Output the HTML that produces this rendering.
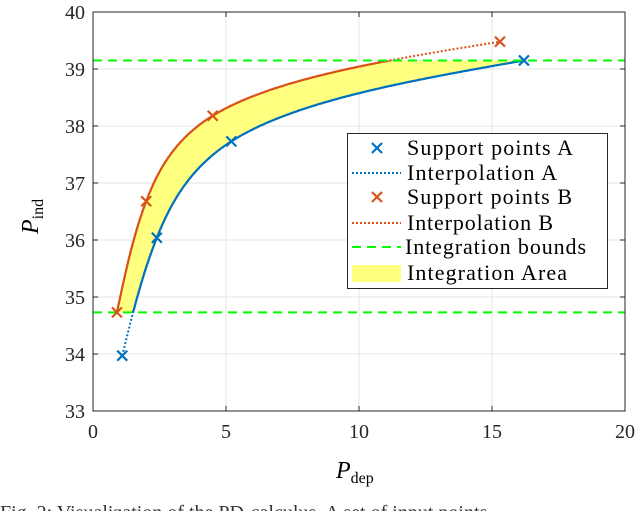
<!DOCTYPE html>
<html><head><meta charset="utf-8"><style>
body{margin:0;background:#fff;width:640px;height:511px;overflow:hidden;font-family:"Liberation Serif",serif}
svg text{font-family:"Liberation Serif",serif}
</style></head><body>
<svg id="c" width="640" height="511"></svg>
<script>
const xTicks=[0,5,10,15,20];
const yTicks=[33,34,35,36,37,38,39,40];
const ptsAx=[1.1,2.4,5.2,16.2];
const ptsAy=[33.97,36.04,37.73,39.15];
const ptsBx=[0.9,2.0,4.5,15.3];
const ptsBy=[34.73,36.68,38.18,39.48];
const bounds=[34.73,39.15];
const NS="http://www.w3.org/2000/svg";
const svg=document.getElementById('c');
const X0=93,X1=625,Y0=411,Y1=12;
const sx=v=>X0+(v-0)/(20-0)*(X1-X0);
const sy=v=>Y0-(v-33)/(40-33)*(Y0-Y1);
function el(t,a,p){const e=document.createElementNS(NS,t);for(const k in a)e.setAttribute(k,a[k]);(p||svg).appendChild(e);return e;}
function nat(ts,ys){const n=ts.length,h=[];for(let i=0;i<n-1;i++)h.push(ts[i+1]-ts[i]);
 const a=new Array(n).fill(0),b=new Array(n).fill(1),c=new Array(n).fill(0),r=new Array(n).fill(0);
 for(let i=1;i<n-1;i++){a[i]=h[i-1];b[i]=2*(h[i-1]+h[i]);c[i]=h[i];r[i]=6*((ys[i+1]-ys[i])/h[i]-(ys[i]-ys[i-1])/h[i-1]);}
 for(let i=1;i<n;i++){const w=a[i]/b[i-1];b[i]-=w*c[i-1];r[i]-=w*r[i-1];}
 const M=new Array(n);M[n-1]=r[n-1]/b[n-1];for(let i=n-2;i>=0;i--)M[i]=(r[i]-c[i]*M[i+1])/b[i];
 return t=>{let i=0;while(i<n-2&&t>ts[i+1])i++;const A=(ts[i+1]-t)/h[i],B=(t-ts[i])/h[i];
 return A*ys[i]+B*ys[i+1]+((A*A*A-A)*M[i]+(B*B*B-B)*M[i+1])*h[i]*h[i]/6;};}
// parametric centripetal spline in screen space
function pcurve(xs,ys){const px=xs.map(sx),py=ys.map(sy),ts=[0];
 for(let i=1;i<px.length;i++)ts.push(ts[i-1]+Math.sqrt(Math.hypot(px[i]-px[i-1],py[i]-py[i-1])));
 const fx=nat(ts,px),fy=nat(ts,py),T=ts[ts.length-1],r=[];
 for(let k=0;k<=400;k++){const t=T*k/400;r.push([fx(t),fy(t)]);}return r;}
const P=r=>r.map(p=>p[0].toFixed(1)+','+p[1].toFixed(1)).join(' ');
const defs=el('defs',{});
const cp=el('clipPath',{id:'band'},defs);
el('rect',{x:0,y:sy(bounds[1]),width:640,height:sy(bounds[0])-sy(bounds[1])},cp);
xTicks.forEach(v=>{const g=el('line',{x1:sx(v),x2:sx(v),y1:Y1,y2:Y0,stroke:'#e6e6e6'});});
yTicks.forEach(v=>{const g=el('line',{x1:X0,x2:X1,y1:sy(v),y2:sy(v),stroke:'#e6e6e6'});});
const sB=pcurve(ptsBx,ptsBy),sA=pcurve(ptsAx,ptsAy);
const area=el('polygon',{points:P(sB)+' '+P(sA.slice().reverse()),fill:'#ffff80',stroke:'none','clip-path':'url(#band)'});

function curve(s,col,nm){
 const d=el('polyline',{points:P(s),fill:'none',stroke:col,'stroke-width':2,'stroke-dasharray':'2,2'});
 const l=el('polyline',{points:P(s),fill:'none',stroke:col,'stroke-width':2.2,'clip-path':'url(#band)'});
}
curve(sA,'#0072bd','interpolation-a');
curve(sB,'#d95319','interpolation-b');
bounds.forEach(v=>{const l=el('line',{x1:X0,x2:X1,y1:sy(v),y2:sy(v),stroke:'#00ff00','stroke-width':2,'stroke-dasharray':'9,6'});});
function mark(x,y,col,nm){const s=5,cx=sx(x),cy=sy(y);const g=el('path',{d:`M${cx-s},${cy-s}L${cx+s},${cy+s}M${cx-s},${cy+s}L${cx+s},${cy-s}`,stroke:col,'stroke-width':2.2});}
ptsAx.forEach((x,i)=>mark(x,ptsAy[i],'#0072bd','support-point-a'));
ptsBx.forEach((x,i)=>mark(x,ptsBy[i],'#d95319','support-point-b'));
const bx=el('rect',{x:X0,y:Y1,width:X1-X0,height:Y0-Y1,fill:'none',stroke:'#262626','stroke-width':1});
xTicks.forEach(v=>{el('line',{x1:sx(v),x2:sx(v),y1:Y0,y2:Y0-5,stroke:'#262626'});el('line',{x1:sx(v),x2:sx(v),y1:Y1,y2:Y1+5,stroke:'#262626'});
 const t=el('text',{x:sx(v),y:Y0+27,'text-anchor':'middle','font-size':20,fill:'#262626'});t.textContent=v;});
yTicks.forEach(v=>{el('line',{x1:X0,x2:X0+5,y1:sy(v),y2:sy(v),stroke:'#262626'});el('line',{x1:X1,x2:X1-5,y1:sy(v),y2:sy(v),stroke:'#262626'});
 const t=el('text',{x:X0-8,y:sy(v)+7,'text-anchor':'end','font-size':20,fill:'#262626'});t.textContent=v;});
</script>
<svg width="640" height="511" style="position:absolute;left:0;top:0">
<text x="336" y="478" font-size="24" font-style="italic">P<tspan font-size="16" font-style="normal" dy="5">dep</tspan></text>
<g transform="translate(38,234) rotate(-90)"><text x="0" y="0" font-size="24" font-style="italic">P<tspan font-size="16" font-style="normal" dy="5">ind</tspan></text></g>
<g>
<rect x="347.5" y="133.5" width="260" height="155" fill="#fff" stroke="#262626"/>
<path d="M372,143L382,153M372,153L382,143" stroke="#0072bd" stroke-width="2.2"/>
<line x1="352" x2="401" y1="173" y2="173" stroke="#0072bd" stroke-width="2" stroke-dasharray="2,2"/>
<path d="M372,192L382,202M372,202L382,192" stroke="#d95319" stroke-width="2.2"/>
<line x1="352" x2="401" y1="223" y2="223" stroke="#d95319" stroke-width="2" stroke-dasharray="2,2"/>
<line x1="352" x2="401" y1="247" y2="247" stroke="#00ff00" stroke-width="2" stroke-dasharray="9,6"/>
<rect x="352" y="265" width="49" height="17" fill="#ffff80"/>
<g font-size="22" fill="#000">
<text x="407" y="155" textLength="166" lengthAdjust="spacing">Support points A</text>
<text x="407" y="180" textLength="150" lengthAdjust="spacing">Interpolation A</text>
<text x="407" y="204" textLength="165" lengthAdjust="spacing">Support points B</text>
<text x="407" y="230" textLength="146" lengthAdjust="spacing">Interpolation B</text>
<text x="405" y="254" textLength="181" lengthAdjust="spacing">Integration bounds</text>
<text x="407" y="280" textLength="160" lengthAdjust="spacing">Integration Area</text>
</g></g>
<text x="0" y="519" font-size="20" fill="#333">Fig. 2: Visualization of the PD-calculus. A set of input points</text>
</svg>
</body></html>
